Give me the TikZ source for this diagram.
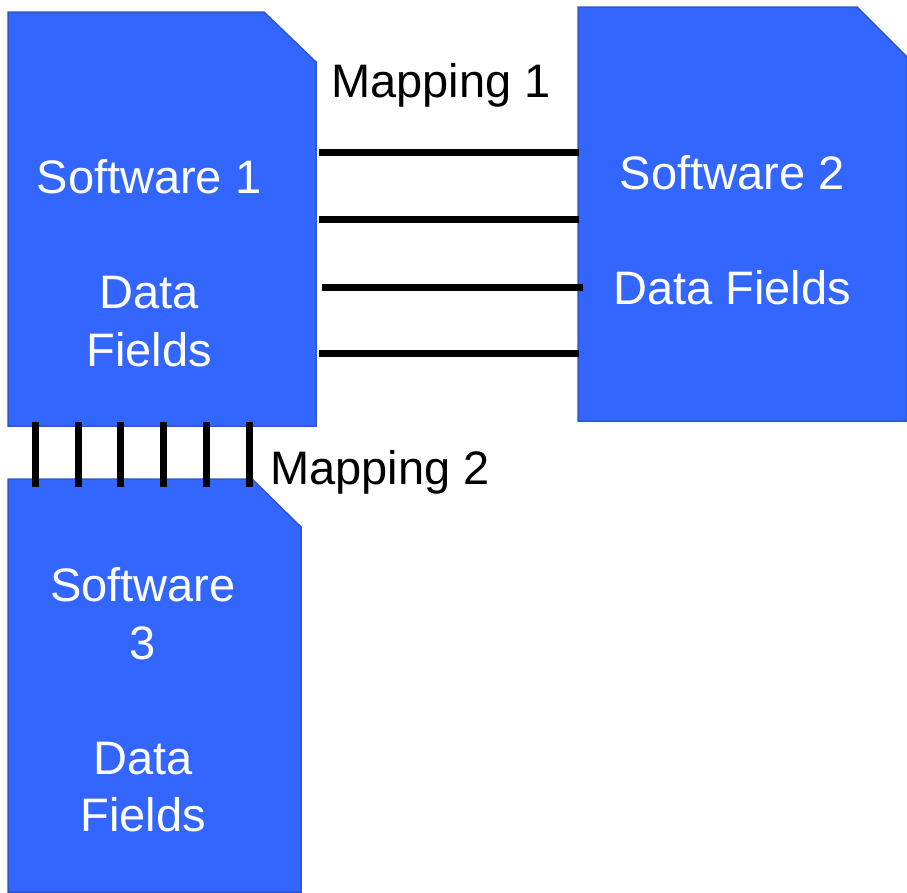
\documentclass[tikz,border=0pt]{standalone}
\usepackage{fontspec}
\setmainfont{Liberation Sans}
\definecolor{boxfill}{HTML}{3366FF}
\definecolor{boxline}{HTML}{2F55D0}
\begin{document}
\begin{tikzpicture}[x=1pt,y=-1pt,
  card/.style={fill=boxfill,draw=boxline,line width=1.5pt},
  link/.style={line width=7pt,black},
  lbl/.style={font=\fontsize{47}{57.5}\selectfont, text=white, align=center, inner sep=0pt},
  maplbl/.style={font=\fontsize{47}{57.5}\selectfont, text=black, inner sep=0pt}]
\useasboundingbox (0,0) rectangle (907,892);
% cards
\draw[card] (8,12) -- (264,12) -- (316,62) -- (316,426) -- (8,426) -- cycle;
\draw[card] (578,7) -- (857,7) -- (907,57) -- (907,421) -- (578,421) -- cycle;
\draw[card] (8,479) -- (252,479) -- (301,527) -- (301,892) -- (8,892) -- cycle;
% card texts
\node[lbl] (s1) at (149,263) {Software 1\\[57.5pt]Data\\Fields};
\node[lbl] (s2) at (732,230) {Software 2\\[57.5pt]Data Fields};
\node[lbl] (s3) at (143,700) {Software\\3\\[57.5pt]Data\\Fields};
% mapping labels
\node[maplbl] (m1) at (441,85) {Mapping 1};
\node[maplbl] (m2) at (380,472) {Mapping 2};
% mapping 1 links
\coordinate (a1) at (319,152); \coordinate (b1) at (579,152);
\coordinate (a2) at (319,219); \coordinate (b2) at (579,219);
\coordinate (a3) at (322,287); \coordinate (b3) at (583,287);
\coordinate (a4) at (319,353); \coordinate (b4) at (579,353);
\draw[link] (a1) -- (b1);
\draw[link] (a2) -- (b2);
\draw[link] (a3) -- (b3);
\draw[link] (a4) -- (b4);
% mapping 2 links
\foreach \i/\x in {1/35,2/78,3/120,4/163,5/206,6/249} {
  \coordinate (t\i) at (\x,422);
  \coordinate (u\i) at (\x,487);
  \draw[link] (t\i) -- (u\i);
}
\end{tikzpicture}
\end{document}
